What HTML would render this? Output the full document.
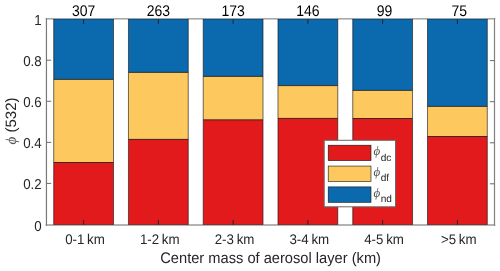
<!DOCTYPE html><html><head><meta charset="utf-8"><style>html,body{margin:0;padding:0;background:#fff;overflow:hidden}svg{display:block}</style></head><body><svg width="500" height="271" viewBox="0 0 500 271" text-rendering="geometricPrecision">
<rect width="500" height="271" fill="#fff"/>
<line x1="45.75" y1="18.5" x2="495.2" y2="18.5" stroke="#a8a8a8" stroke-width="1"/>
<line x1="45.75" y1="19.5" x2="495.2" y2="19.5" stroke="#cccccc" stroke-width="1"/>
<line x1="45.75" y1="225.1" x2="495.2" y2="225.1" stroke="#9a9a9a" stroke-width="1.5"/>
<line x1="46.45" y1="18.2" x2="46.45" y2="225.8" stroke="#787878" stroke-width="1.2"/>
<line x1="494.5" y1="18.2" x2="494.5" y2="225.8" stroke="#808080" stroke-width="1.2"/>
<rect x="53.70" y="162.30" width="59.80" height="62.40" fill="#e31a1c"/>
<rect x="53.70" y="79.20" width="59.80" height="83.10" fill="#fdc85e"/>
<rect x="53.70" y="19" width="59.80" height="60.20" fill="#0a6aad"/>
<line x1="53.70" y1="162.50" x2="113.50" y2="162.50" stroke="#111" stroke-width="0.8"/>
<line x1="53.70" y1="79.40" x2="113.50" y2="79.40" stroke="#111" stroke-width="0.8"/>
<line x1="53.70" y1="19.5" x2="113.50" y2="19.5" stroke="#000" stroke-opacity="0.22" stroke-width="1"/>
<line x1="53.70" y1="224.5" x2="113.50" y2="224.5" stroke="#000" stroke-opacity="0.35" stroke-width="1"/>
<line x1="53.70" y1="18.9" x2="53.70" y2="224.70" stroke="#111" stroke-width="0.6"/>
<line x1="113.50" y1="18.9" x2="113.50" y2="224.70" stroke="#111" stroke-width="0.6"/>
<rect x="128.46" y="139.20" width="59.80" height="85.50" fill="#e31a1c"/>
<rect x="128.46" y="72.20" width="59.80" height="67.00" fill="#fdc85e"/>
<rect x="128.46" y="19" width="59.80" height="53.20" fill="#0a6aad"/>
<line x1="128.46" y1="139.40" x2="188.26" y2="139.40" stroke="#111" stroke-width="0.8"/>
<line x1="128.46" y1="72.40" x2="188.26" y2="72.40" stroke="#111" stroke-width="0.8"/>
<line x1="128.46" y1="19.5" x2="188.26" y2="19.5" stroke="#000" stroke-opacity="0.22" stroke-width="1"/>
<line x1="128.46" y1="224.5" x2="188.26" y2="224.5" stroke="#000" stroke-opacity="0.35" stroke-width="1"/>
<line x1="128.46" y1="18.9" x2="128.46" y2="224.70" stroke="#111" stroke-width="0.6"/>
<line x1="188.26" y1="18.9" x2="188.26" y2="224.70" stroke="#111" stroke-width="0.6"/>
<rect x="203.22" y="119.60" width="59.80" height="105.10" fill="#e31a1c"/>
<rect x="203.22" y="76.20" width="59.80" height="43.40" fill="#fdc85e"/>
<rect x="203.22" y="19" width="59.80" height="57.20" fill="#0a6aad"/>
<line x1="203.22" y1="119.80" x2="263.02" y2="119.80" stroke="#111" stroke-width="0.8"/>
<line x1="203.22" y1="76.40" x2="263.02" y2="76.40" stroke="#111" stroke-width="0.8"/>
<line x1="203.22" y1="19.5" x2="263.02" y2="19.5" stroke="#000" stroke-opacity="0.22" stroke-width="1"/>
<line x1="203.22" y1="224.5" x2="263.02" y2="224.5" stroke="#000" stroke-opacity="0.35" stroke-width="1"/>
<line x1="203.22" y1="18.9" x2="203.22" y2="224.70" stroke="#111" stroke-width="0.6"/>
<line x1="263.02" y1="18.9" x2="263.02" y2="224.70" stroke="#111" stroke-width="0.6"/>
<rect x="277.98" y="118.20" width="59.80" height="106.50" fill="#e31a1c"/>
<rect x="277.98" y="85.40" width="59.80" height="32.80" fill="#fdc85e"/>
<rect x="277.98" y="19" width="59.80" height="66.40" fill="#0a6aad"/>
<line x1="277.98" y1="118.40" x2="337.78" y2="118.40" stroke="#111" stroke-width="0.8"/>
<line x1="277.98" y1="85.60" x2="337.78" y2="85.60" stroke="#111" stroke-width="0.8"/>
<line x1="277.98" y1="19.5" x2="337.78" y2="19.5" stroke="#000" stroke-opacity="0.22" stroke-width="1"/>
<line x1="277.98" y1="224.5" x2="337.78" y2="224.5" stroke="#000" stroke-opacity="0.35" stroke-width="1"/>
<line x1="277.98" y1="18.9" x2="277.98" y2="224.70" stroke="#111" stroke-width="0.6"/>
<line x1="337.78" y1="18.9" x2="337.78" y2="224.70" stroke="#111" stroke-width="0.6"/>
<rect x="352.74" y="118.30" width="59.80" height="106.40" fill="#e31a1c"/>
<rect x="352.74" y="90.20" width="59.80" height="28.10" fill="#fdc85e"/>
<rect x="352.74" y="19" width="59.80" height="71.20" fill="#0a6aad"/>
<line x1="352.74" y1="118.50" x2="412.54" y2="118.50" stroke="#111" stroke-width="0.8"/>
<line x1="352.74" y1="90.40" x2="412.54" y2="90.40" stroke="#111" stroke-width="0.8"/>
<line x1="352.74" y1="19.5" x2="412.54" y2="19.5" stroke="#000" stroke-opacity="0.22" stroke-width="1"/>
<line x1="352.74" y1="224.5" x2="412.54" y2="224.5" stroke="#000" stroke-opacity="0.35" stroke-width="1"/>
<line x1="352.74" y1="18.9" x2="352.74" y2="224.70" stroke="#111" stroke-width="0.6"/>
<line x1="412.54" y1="18.9" x2="412.54" y2="224.70" stroke="#111" stroke-width="0.6"/>
<rect x="427.50" y="136.30" width="59.80" height="88.40" fill="#e31a1c"/>
<rect x="427.50" y="106.20" width="59.80" height="30.10" fill="#fdc85e"/>
<rect x="427.50" y="19" width="59.80" height="87.20" fill="#0a6aad"/>
<line x1="427.50" y1="136.50" x2="487.30" y2="136.50" stroke="#111" stroke-width="0.8"/>
<line x1="427.50" y1="106.40" x2="487.30" y2="106.40" stroke="#111" stroke-width="0.8"/>
<line x1="427.50" y1="19.5" x2="487.30" y2="19.5" stroke="#000" stroke-opacity="0.22" stroke-width="1"/>
<line x1="427.50" y1="224.5" x2="487.30" y2="224.5" stroke="#000" stroke-opacity="0.35" stroke-width="1"/>
<line x1="427.50" y1="18.9" x2="427.50" y2="224.70" stroke="#111" stroke-width="0.6"/>
<line x1="487.30" y1="18.9" x2="487.30" y2="224.70" stroke="#111" stroke-width="0.6"/>
<line x1="46.45" y1="183.40" x2="51.150000000000006" y2="183.40" stroke="#6a6a6a" stroke-width="1"/>
<line x1="494.5" y1="183.80" x2="489.8" y2="183.80" stroke="#6a6a6a" stroke-width="1"/>
<line x1="46.45" y1="142.40" x2="51.150000000000006" y2="142.40" stroke="#6a6a6a" stroke-width="1"/>
<line x1="494.5" y1="142.80" x2="489.8" y2="142.80" stroke="#6a6a6a" stroke-width="1"/>
<line x1="46.45" y1="101.30" x2="51.150000000000006" y2="101.30" stroke="#6a6a6a" stroke-width="1"/>
<line x1="494.5" y1="101.70" x2="489.8" y2="101.70" stroke="#6a6a6a" stroke-width="1"/>
<line x1="46.45" y1="60.20" x2="51.150000000000006" y2="60.20" stroke="#6a6a6a" stroke-width="1"/>
<line x1="494.5" y1="60.60" x2="489.8" y2="60.60" stroke="#6a6a6a" stroke-width="1"/>
<line x1="83.60" y1="224.7" x2="83.60" y2="220.0" stroke="#262626" stroke-width="1"/>
<line x1="83.60" y1="19.3" x2="83.60" y2="24.0" stroke="#262626" stroke-width="1"/>
<line x1="158.36" y1="224.7" x2="158.36" y2="220.0" stroke="#262626" stroke-width="1"/>
<line x1="158.36" y1="19.3" x2="158.36" y2="24.0" stroke="#262626" stroke-width="1"/>
<line x1="233.12" y1="224.7" x2="233.12" y2="220.0" stroke="#262626" stroke-width="1"/>
<line x1="233.12" y1="19.3" x2="233.12" y2="24.0" stroke="#262626" stroke-width="1"/>
<line x1="307.88" y1="224.7" x2="307.88" y2="220.0" stroke="#262626" stroke-width="1"/>
<line x1="307.88" y1="19.3" x2="307.88" y2="24.0" stroke="#262626" stroke-width="1"/>
<line x1="382.64" y1="224.7" x2="382.64" y2="220.0" stroke="#262626" stroke-width="1"/>
<line x1="382.64" y1="19.3" x2="382.64" y2="24.0" stroke="#262626" stroke-width="1"/>
<line x1="457.40" y1="224.7" x2="457.40" y2="220.0" stroke="#262626" stroke-width="1"/>
<line x1="457.40" y1="19.3" x2="457.40" y2="24.0" stroke="#262626" stroke-width="1"/>
<text transform="translate(41.70,230.70) scale(1,1.08)" font-family="Liberation Sans, Arial, sans-serif" font-size="13.33" fill="#262626" text-anchor="end">0</text>
<text transform="translate(41.70,189.40) scale(1,1.08)" font-family="Liberation Sans, Arial, sans-serif" font-size="13.33" fill="#262626" text-anchor="end">0.2</text>
<text transform="translate(41.70,148.40) scale(1,1.08)" font-family="Liberation Sans, Arial, sans-serif" font-size="13.33" fill="#262626" text-anchor="end">0.4</text>
<text transform="translate(41.70,107.30) scale(1,1.08)" font-family="Liberation Sans, Arial, sans-serif" font-size="13.33" fill="#262626" text-anchor="end">0.6</text>
<text transform="translate(41.70,66.20) scale(1,1.08)" font-family="Liberation Sans, Arial, sans-serif" font-size="13.33" fill="#262626" text-anchor="end">0.8</text>
<text transform="translate(41.70,25.00) scale(1,1.08)" font-family="Liberation Sans, Arial, sans-serif" font-size="13.33" fill="#262626" text-anchor="end">1</text>
<text transform="translate(85.00,243.90) scale(1,1.05)" font-family="Liberation Sans, Arial, sans-serif" font-size="13.33" fill="#262626" text-anchor="middle" word-spacing="-1">0-1 km</text>
<text transform="translate(159.76,243.90) scale(1,1.05)" font-family="Liberation Sans, Arial, sans-serif" font-size="13.33" fill="#262626" text-anchor="middle" word-spacing="-1">1-2 km</text>
<text transform="translate(234.52,243.90) scale(1,1.05)" font-family="Liberation Sans, Arial, sans-serif" font-size="13.33" fill="#262626" text-anchor="middle" word-spacing="-1">2-3 km</text>
<text transform="translate(309.28,243.90) scale(1,1.05)" font-family="Liberation Sans, Arial, sans-serif" font-size="13.33" fill="#262626" text-anchor="middle" word-spacing="-1">3-4 km</text>
<text transform="translate(384.04,243.90) scale(1,1.05)" font-family="Liberation Sans, Arial, sans-serif" font-size="13.33" fill="#262626" text-anchor="middle" word-spacing="-1">4-5 km</text>
<text transform="translate(458.80,243.90) scale(1,1.05)" font-family="Liberation Sans, Arial, sans-serif" font-size="13.33" fill="#262626" text-anchor="middle" word-spacing="-1">&gt;5 km</text>
<text transform="translate(83.60,15.70) scale(1,1.1)" font-family="Liberation Sans, Arial, sans-serif" font-size="14" fill="#000" text-anchor="middle">307</text>
<text transform="translate(158.36,15.70) scale(1,1.1)" font-family="Liberation Sans, Arial, sans-serif" font-size="14" fill="#000" text-anchor="middle">263</text>
<text transform="translate(233.12,15.70) scale(1,1.1)" font-family="Liberation Sans, Arial, sans-serif" font-size="14" fill="#000" text-anchor="middle">173</text>
<text transform="translate(307.88,15.70) scale(1,1.1)" font-family="Liberation Sans, Arial, sans-serif" font-size="14" fill="#000" text-anchor="middle">146</text>
<text transform="translate(384.54,15.70) scale(1,1.1)" font-family="Liberation Sans, Arial, sans-serif" font-size="14" fill="#000" text-anchor="middle">99</text>
<text transform="translate(459.30,15.70) scale(1,1.1)" font-family="Liberation Sans, Arial, sans-serif" font-size="14" fill="#000" text-anchor="middle">75</text>
<text transform="translate(270.60,262.80) scale(1,1.04)" font-family="Liberation Sans, Arial, sans-serif" font-size="14.67" fill="#262626" text-anchor="middle">Center mass of aerosol layer (km)</text>
<text transform="translate(15.9,121.0) rotate(-90)" font-family="Liberation Sans, Arial, sans-serif" font-size="15" fill="#262626" text-anchor="middle"><tspan font-family="Liberation Serif, serif" font-style="italic" fill="#555">ϕ</tspan> (532)</text>
<rect x="324.2" y="140.3" width="71.3" height="66.5" fill="#fff" stroke="#6a6a6a" stroke-width="1"/>
<rect x="328.2" y="145.20" width="42.8" height="15.4" fill="#e31a1c" stroke="#111" stroke-width="0.6"/>
<text x="373.5" y="155.20" font-family="Liberation Serif, serif" font-style="italic" font-size="13" fill="#555">ϕ</text>
<text x="380.7" y="160.50" font-family="Liberation Sans, Arial, sans-serif" font-size="10.1" fill="#262626">dc</text>
<rect x="328.2" y="166.05" width="42.8" height="15.4" fill="#fdc85e" stroke="#111" stroke-width="0.6"/>
<text x="373.5" y="176.05" font-family="Liberation Serif, serif" font-style="italic" font-size="13" fill="#555">ϕ</text>
<text x="380.7" y="181.35" font-family="Liberation Sans, Arial, sans-serif" font-size="10.1" fill="#262626">df</text>
<rect x="328.2" y="186.90" width="42.8" height="15.4" fill="#0a6aad" stroke="#111" stroke-width="0.6"/>
<text x="373.5" y="196.90" font-family="Liberation Serif, serif" font-style="italic" font-size="13" fill="#555">ϕ</text>
<text x="380.7" y="202.20" font-family="Liberation Sans, Arial, sans-serif" font-size="10.1" fill="#262626">nd</text>
</svg></body></html>
